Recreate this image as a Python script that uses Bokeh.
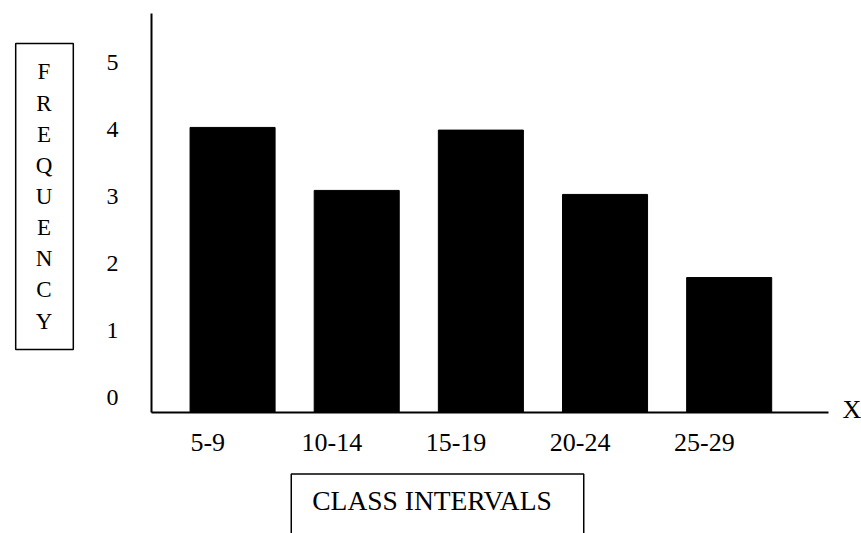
from bokeh.plotting import figure
from bokeh.models import ColumnDataSource, Label, Range1d, FixedTicker, LinearAxis
from bokeh.embed import file_html
from bokeh.resources import INLINE

# ---- data ----
CATEGORIES = ["5-9", "10-14", "15-19", "20-24", "25-29"]
FREQUENCIES = [4.03, 3.09, 3.99, 3.03, 1.79]
Y_TICKS = [0, 1, 2, 3, 4, 5]
Y_AXIS_LABEL = "FREQUENCY"
X_AXIS_LABEL = "CLASS INTERVALS"
X_END_LABEL = "X"

# ---- axis ranges ----
X_START, X_END = -0.653, 4.80
Y_START, Y_END = -0.224, 5.73
BAR_WIDTH = 0.685
LABEL_SHIFT = 0.2          # category labels sit slightly left of their bars
FONT = "Liberation Serif"

positions = list(range(len(CATEGORIES)))
source = ColumnDataSource(dict(x=positions, top=FREQUENCIES))

p = figure(
    frame_width=677, frame_height=399,
    min_border_left=151, min_border_right=33,
    min_border_top=13, min_border_bottom=121,
    x_range=Range1d(X_START, X_END), y_range=Range1d(Y_START, Y_END),
    output_backend="svg", toolbar_location=None, tools="",
)
p.extra_x_ranges = {"labels": Range1d(X_START + LABEL_SHIFT, X_END + LABEL_SHIFT)}

p.vbar(x="x", top="top", bottom=Y_START, width=BAR_WIDTH, source=source,
       fill_color="black", line_color="black")

p.xgrid.visible = False
p.ygrid.visible = False
p.outline_line_color = None
p.background_fill_color = "white"
p.border_fill_color = "white"

# main x axis: plain line
xaxis = p.xaxis[0]
xaxis.ticker = FixedTicker(ticks=[])
xaxis.axis_line_color = "black"
xaxis.axis_line_width = 2
xaxis.major_tick_line_color = None
xaxis.minor_tick_line_color = None
xaxis.major_tick_out = 0
xaxis.major_tick_in = 0

# category labels axis
label_axis = LinearAxis(
    x_range_name="labels",
    ticker=FixedTicker(ticks=positions),
    major_label_overrides={i: c for i, c in zip(positions, CATEGORIES)},
    axis_line_color=None,
    major_tick_line_color=None,
    minor_tick_line_color=None,
    major_tick_out=0, major_tick_in=0,
    major_label_standoff=21,
    major_label_text_font=FONT,
    major_label_text_font_size="26px",
    major_label_text_color="black",
)
p.add_layout(label_axis, "below")

# y axis
p.yaxis.ticker = FixedTicker(ticks=Y_TICKS)
p.yaxis.axis_line_color = "black"
p.yaxis.axis_line_width = 2
p.yaxis.major_tick_line_color = None
p.yaxis.minor_tick_line_color = None
p.yaxis.major_tick_out = 0
p.yaxis.major_tick_in = 0
p.yaxis.major_label_standoff = 33
p.yaxis.major_label_text_font = FONT
p.yaxis.major_label_text_font_size = "24px"
p.yaxis.major_label_text_color = "black"

p.add_layout(Label(
    x=X_START, y=Y_START, x_offset=286, y_offset=-97.5,
    text=X_AXIS_LABEL,
    text_align="center", text_baseline="middle",
    text_font=FONT, text_font_size="27.5px", text_color="black",
    border_line_color="black", border_line_width=1.5,
    padding=dict(left=21, right=32, top=11, bottom=30),
), "below")

p.add_layout(Label(
    x=X_START, y=Y_START, x_offset=-107, y_offset=216,
    text="\n".join(Y_AXIS_LABEL),
    text_align="center", text_baseline="middle",
    text_font=FONT, text_font_size="23px", text_color="black",
    text_line_height=1.246,
    border_line_color="black", border_line_width=1.5,
    padding=dict(left=20, right=21, top=16, bottom=16),
), "left")

p.add_layout(Label(
    x=X_END, y=Y_START, x_offset=14, y_offset=3,
    text=X_END_LABEL,
    text_align="left", text_baseline="middle",
    text_font=FONT, text_font_size="26px", text_color="black",
), "right")

open("out.html", "w").write(file_html(p, INLINE))
